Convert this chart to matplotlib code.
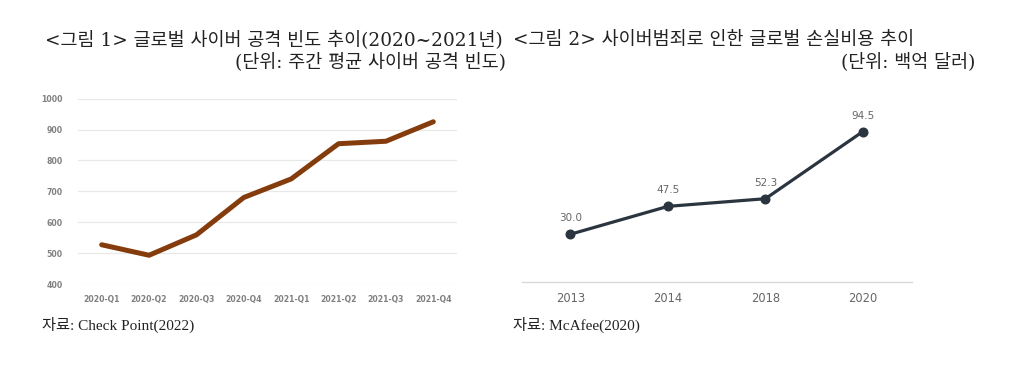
import matplotlib
matplotlib.use("Agg")
import matplotlib.pyplot as plt

# ---- data ----
quarters = ["2020-Q1", "2020-Q2", "2020-Q3", "2020-Q4",
            "2021-Q1", "2021-Q2", "2021-Q3", "2021-Q4"]
attacks = [527, 493, 559, 680, 740, 854, 862, 925]
y_ticks_left = [400, 500, 600, 700, 800, 900, 1000]

years = ["2013", "2014", "2018", "2020"]
losses = [30.0, 47.5, 52.3, 94.5]
loss_labels = ["30.0", "47.5", "52.3", "94.5"]

title1 = "<그림 1> 글로벌 사이버 공격 빈도 추이(2020~2021년)"
unit1 = "(단위: 주간 평균 사이버 공격 빈도)"
title2 = "<그림 2> 사이버범죄로 인한 글로벌 손실비용 추이"
unit2 = "(단위: 백억 달러)"
source1 = "자료: Check Point(2022)"
source2 = "자료: McAfee(2020)"

W, H = 1024, 365
fig = plt.figure(figsize=(W / 100, H / 100), dpi=100)
fig.patch.set_facecolor("white")

def fx(px):
    return px / W

def fy(py):
    return 1 - py / H

title_fam = ["DejaVu Serif", "Noto Sans CJK KR"]
src_fam = ["Liberation Serif", "Noto Sans CJK KR"]

# ---- left chart ----
axL = fig.add_axes([fx(78), fy(284), fx(457 - 78), (284 - 98.6) / H])
xs = list(range(len(quarters)))
axL.plot(xs, attacks, color="#843C0C", lw=3.6, solid_capstyle="round",
         solid_joinstyle="round", zorder=3)
axL.set_xlim(-0.5, len(quarters) - 0.5)
axL.set_ylim(400, 1000)
axL.set_yticks(y_ticks_left)
axL.set_xticks(xs)
axL.set_xticklabels(quarters)
for s in axL.spines.values():
    s.set_visible(False)
axL.grid(axis="y", color="#e8e8e8", lw=0.9)
axL.set_axisbelow(True)
axL.tick_params(length=0, labelsize=5.6, labelcolor="#808080", pad=8)
axL.tick_params(axis="y", pad=11)
for lab in axL.get_xticklabels() + axL.get_yticklabels():
    lab.set_fontweight("bold")

# ---- right chart ----
axR = fig.add_axes([fx(521.7), fy(282), fx(911.7 - 521.7), (282 - 110) / H])
xr = list(range(len(years)))
axR.plot(xr, losses, color="#2B3540", lw=2.3, marker="o", markersize=6.2,
         zorder=3)
for x, v, t in zip(xr, losses, loss_labels):
    axR.annotate(t, (x, v), xytext=(0, 11.5), textcoords="offset points",
                 ha="center", va="center", fontsize=7.5, color="#666666")
axR.set_xlim(-0.5, len(years) - 0.5)
axR.set_ylim(0, 108)
axR.set_xticks(xr)
axR.set_xticklabels(years)
axR.set_yticks([])
for k, s in axR.spines.items():
    s.set_visible(k == "bottom")
axR.spines["bottom"].set_color("#d9d9d9")
axR.spines["bottom"].set_linewidth(1.0)
axR.tick_params(length=0, labelsize=8.3, labelcolor="#666666", pad=7)

# ---- texts ----
fs_title = 13.3
fig.text(fx(45), fy(40), title1, ha="left", va="center", fontsize=fs_title,
         family=title_fam, color="#222222")
fig.text(fx(506), fy(62), unit1, ha="right", va="center", fontsize=fs_title,
         family=title_fam, color="#222222")
fig.text(fx(513), fy(40), title2, ha="left", va="center", fontsize=fs_title,
         family=title_fam, color="#222222")
fig.text(fx(975), fy(62), unit2, ha="right", va="center", fontsize=fs_title,
         family=title_fam, color="#222222")
fig.text(fx(42), fy(325), source1, ha="left", va="center", fontsize=11,
         family=src_fam, color="#222222")
fig.text(fx(513), fy(325), source2, ha="left", va="center", fontsize=11,
         family=src_fam, color="#222222")

fig.savefig("out.png", dpi=100, facecolor="white")
